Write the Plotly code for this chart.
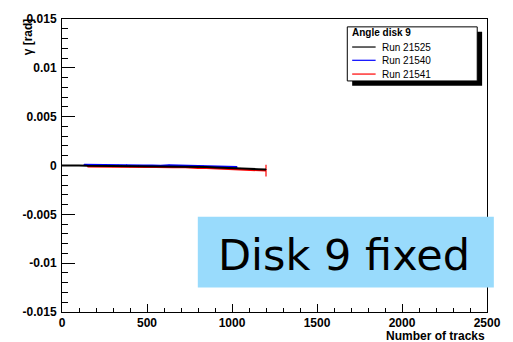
import plotly.graph_objects as go

# Alignment angle (gamma) of disk 9 versus number of tracks, three runs
x_21525 = [0, 50, 100, 150, 200, 250, 300, 350, 400, 450, 500, 550, 600,
           650, 700, 750, 800, 850, 900, 950, 1000, 1050, 1100, 1150, 1200]
y_21525 = [0.0, 0.00002, 0.00001, -0.00002, -0.00003, -0.00001, -0.00004,
           -0.00002, -0.00006, -0.00005, -0.00007, -0.0001, -0.00008,
           -0.00012, -0.00011, -0.00015, -0.00017, -0.00016, -0.0002,
           -0.00022, -0.00025, -0.00028, -0.00033, -0.00038, -0.00042]
e_21525 = [0.00003] * len(x_21525)

x_21540 = [130, 180, 230, 280, 330, 380, 430, 480, 530, 580, 630, 680, 730,
           780, 830, 880, 930, 980, 1030]
y_21540 = [0.00008, 0.00006, 0.00007, 0.00004, 0.00003, 0.00005, 0.00002,
           0.0, 0.00001, -0.00002, 0.00003, 0.0, -0.00004, -0.00006,
           -0.00003, -0.00008, -0.0001, -0.00012, -0.00016]
e_21540 = [0.00004] * len(x_21540)

x_21541 = [150, 200, 250, 300, 350, 400, 450, 500, 550, 600, 650, 700, 750,
           800, 850, 900, 950, 1000, 1050, 1100, 1150, 1200]
y_21541 = [-0.0001, -0.00012, -0.00011, -0.00013, -0.00012, -0.00014,
           -0.00015, -0.00016, -0.00015, -0.00018, -0.00017, -0.00016,
           -0.00022, -0.00025, -0.00026, -0.0003, -0.00031, -0.00034,
           -0.00038, -0.00044, -0.0005, -0.00052]
e_21541 = [0.00004] * (len(x_21541) - 1) + [0.0006]

run_names = ["Run 21525", "Run 21540", "Run 21541"]
run_colors = ["#000000", "#0000ff", "#ff0000"]

y_ticks = [-0.015, -0.01, -0.005, 0, 0.005, 0.01, 0.015]
y_tick_text = ["-0.015", "-0.01", "-0.005", "0", "0.005", "0.01", "0.015"]
x_ticks = [0, 500, 1000, 1500, 2000, 2500]

W, H = 513, 342
L, R, T, B = 62, 497, 14, 312


def px(xp):
    return (xp - L) / (R - L)


def py(yp):
    return (B - yp) / (B - T)


fig = go.Figure()
series = [(x_21541, y_21541, e_21541, run_colors[2]),
          (x_21540, y_21540, e_21540, run_colors[1]),
          (x_21525, y_21525, e_21525, run_colors[0])]
for xs, ys, es, col in series:
    fig.add_trace(go.Scatter(
        x=xs, y=ys, mode="lines",
        line=dict(color=col, width=2),
        error_y=dict(type="data", array=es, color=col, thickness=1.2, width=0),
        showlegend=False, hoverinfo="skip"))

tick_font = dict(family="Liberation Sans, Arial", size=12, color="black",
                 weight="bold")

fig.update_layout(
    width=W, height=H,
    margin=dict(l=L, r=W - R, t=T, b=H - B, pad=0),
    paper_bgcolor="white", plot_bgcolor="white",
    xaxis=dict(range=[0, 2500], tickvals=x_ticks, ticks="inside", ticklen=8,
               tickcolor="black", tickwidth=1, showgrid=False, zeroline=False,
               showline=True, linecolor="black", linewidth=1, mirror=True,
               tickfont=tick_font, ticklabelstandoff=0,
               minor=dict(dtick=100, ticks="inside", ticklen=4,
                          tickcolor="black", showgrid=False)),
    yaxis=dict(range=[-0.015, 0.015], tickvals=y_ticks, ticktext=y_tick_text,
               ticks="inside", ticklen=13, tickcolor="black", tickwidth=1,
               showgrid=False, zeroline=False, showline=True,
               linecolor="black", linewidth=1, mirror=True,
               tickfont=tick_font, ticklabelstandoff=2,
               minor=dict(dtick=0.001, ticks="inside", ticklen=6,
                          tickcolor="black", showgrid=False)),
)

shapes = []
annotations = []

# axis titles
annotations.append(dict(text="Number of tracks", xref="paper", yref="paper",
                        x=px(R), y=py(336.5), xanchor="right",
                        yanchor="middle", showarrow=False,
                        font=dict(family="Liberation Sans, Arial", size=12,
                                  color="black", weight="bold")))
annotations.append(dict(text="\u03b3 [rad]", xref="paper", yref="paper",
                        x=px(27), y=py(11), xanchor="center", yanchor="top",
                        textangle=-90, showarrow=False,
                        font=dict(family="Liberation Sans, Arial", size=12,
                                  color="black", weight="bold")))

# legend with drop shadow
lx0, lx1, ly0, ly1 = 354, 487, 22, 77
shapes.append(dict(type="rect", xref="paper", yref="paper",
                   x0=px(lx0 + 5), x1=px(lx1 + 5), y0=py(ly1 + 5), y1=py(ly0 + 5),
                   fillcolor="black", line=dict(width=0), layer="above"))
shapes.append(dict(type="rect", xref="paper", yref="paper",
                   x0=px(lx0), x1=px(lx1), y0=py(ly1), y1=py(ly0),
                   fillcolor="white", line=dict(color="black", width=1),
                   layer="above"))
annotations.append(dict(text="Angle disk 9", xref="paper", yref="paper",
                        x=px(357), y=py(28), xanchor="left", yanchor="middle",
                        showarrow=False,
                        font=dict(family="Liberation Sans, Arial", size=10,
                                  color="black", weight="bold")))
legend_rows = [42.5, 56, 70]
for yy, col, name in zip(legend_rows, run_colors, run_names):
    shapes.append(dict(type="line", xref="paper", yref="paper",
                       x0=px(359), x1=px(383), y0=py(yy), y1=py(yy),
                       line=dict(color=col, width=1.2), layer="above"))
    annotations.append(dict(text=name, xref="paper", yref="paper",
                            x=px(387), y=py(yy), xanchor="left",
                            yanchor="middle", showarrow=False,
                            font=dict(family="Liberation Sans, Arial", size=10,
                                      color="black")))

# highlighted label box
shapes.append(dict(type="rect", xref="paper", yref="paper",
                   x0=px(201), x1=px(504), y0=py(287), y1=py(215),
                   fillcolor="#99dbfc", line=dict(width=0), layer="above"))
annotations.append(dict(text="Disk 9 fixed", xref="paper", yref="paper",
                        x=px(351), y=py(254), xanchor="center",
                        yanchor="middle", showarrow=False,
                        font=dict(family="DejaVu Sans", size=43,
                                  color="black")))

fig.update_layout(shapes=shapes, annotations=annotations)
fig.write_html("out.html")
